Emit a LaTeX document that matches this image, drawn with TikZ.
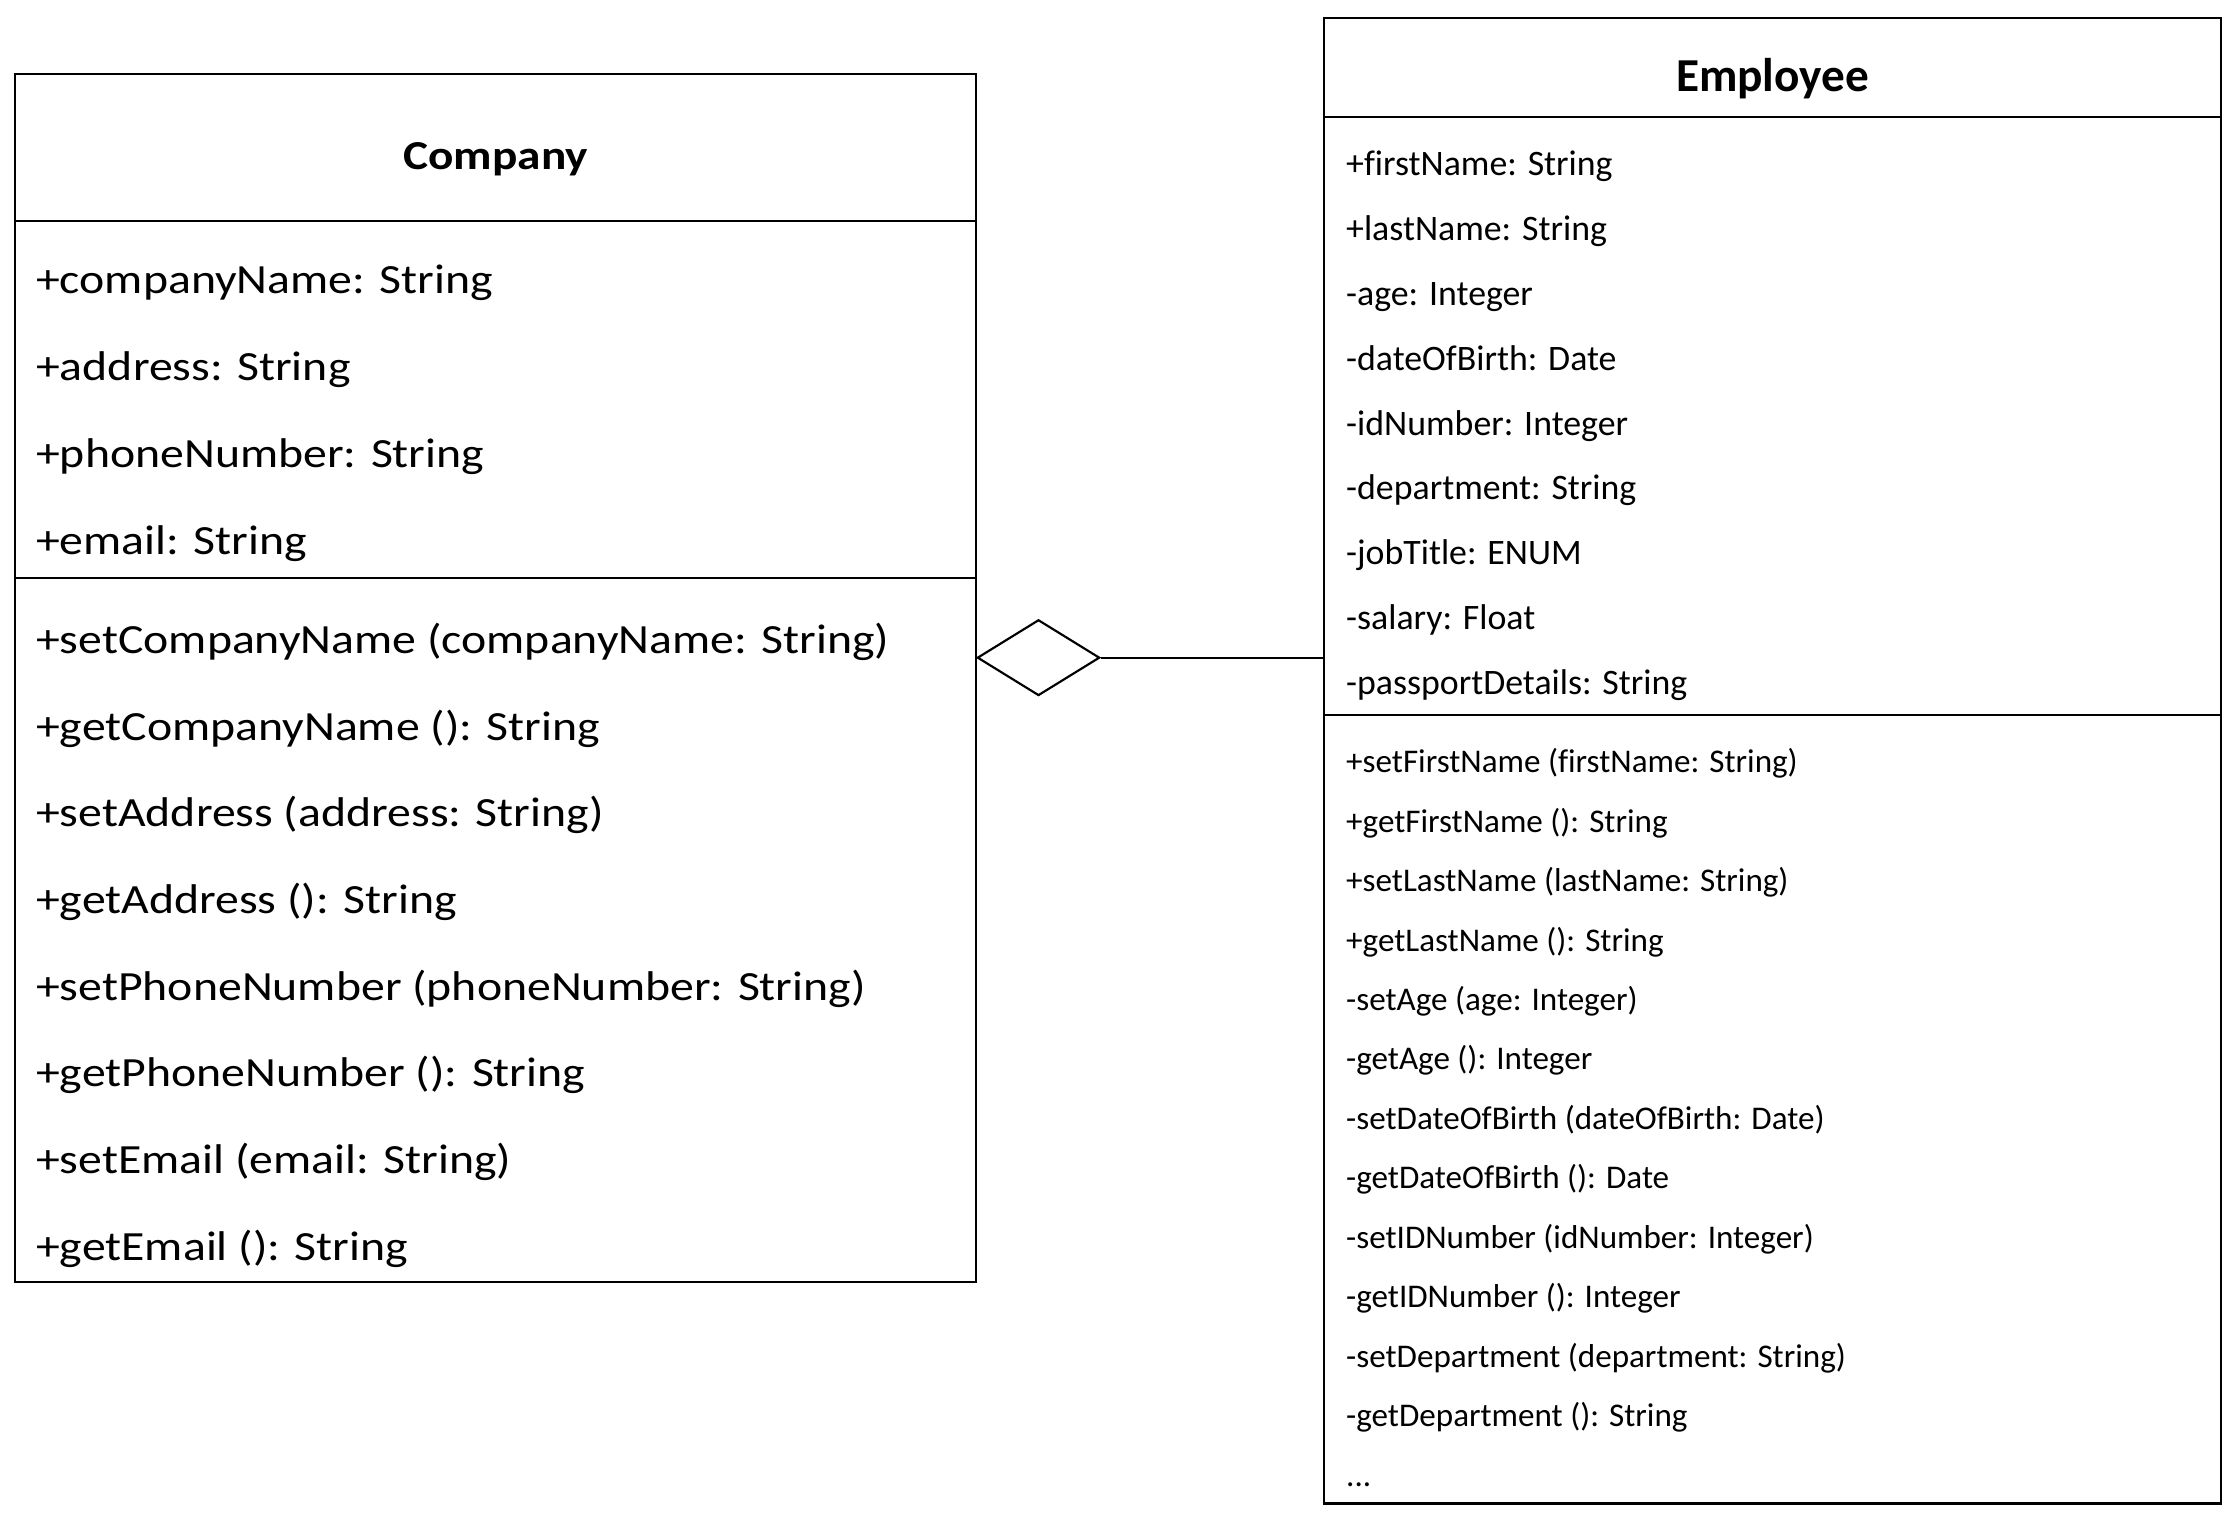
\documentclass[tikz,border=0pt]{standalone}
\usepackage{fontspec}
\setmainfont{Carlito}[Ligatures=CommonOff]
\newfontfamily\widefont{Carlito}[FakeStretch=1.15,Ligatures=CommonOff]
\usetikzlibrary{positioning,shapes.geometric}

\begin{document}
\begin{tikzpicture}[x=1pt,y=-1pt,line width=1.5pt,
                    box/.style={rectangle,draw,inner sep=0pt,outer sep=0pt},
                    title/.style={anchor=base,inner sep=0pt},
                    member/.style={anchor=base west,inner sep=0pt}]

  \useasboundingbox (0,0) rectangle (1563,1060.4);

  % Company class
  \node[box,minimum width=671,minimum height=102.8,anchor=north west] (company head) at (10.5,51.5) {};
  \node[box,minimum width=671,minimum height=249.2] (company attrs) [below=0pt of company head] {};
  \node[box,minimum width=671,minimum height=491.5] (company methods) [below=0pt of company attrs] {};
  \node[title,font=\widefont\bfseries\fontsize{28.7}{30}\selectfont] (company title) at (346,118.2) {Company};

  \foreach \txt [count=\i from 0] in {+companyName: String,+address: String,
      +phoneNumber: String,+email: String}
    \node[member,font=\widefont\fontsize{29}{31}\selectfont] (company attr \i) at (24.5,{204.8+60.8*\i}) {\txt};

  \foreach \txt [count=\i from 0] in {+setCompanyName (companyName: String),
      +getCompanyName (): String,+setAddress (address: String),+getAddress (): String,
      +setPhoneNumber (phoneNumber: String),+getPhoneNumber (): String,
      +setEmail (email: String),+getEmail (): String}
    \node[member,font=\widefont\fontsize{29}{31}\selectfont] (company method \i) at (24.5,{456.1+60.5*\i}) {\txt};

  % Employee class
  \node[box,minimum width=626.2,minimum height=68.7,anchor=north west] (employee head) at (924.3,12.8) {};
  \node[box,minimum width=626.2,minimum height=417.6] (employee attrs) [below=0pt of employee head] {};
  \node[box,minimum width=626.2,minimum height=550.4] (employee methods) [below=0pt of employee attrs] {};
  \node[title,font=\bfseries\fontsize{33}{35}\selectfont] (employee title) at (1237.4,64) {Employee};

  \foreach \txt [count=\i from 0] in {+firstName: String,+lastName: String,-age: Integer,
      -dateOfBirth: Date,-idNumber: Integer,-department: String,-jobTitle: ENUM,
      -salary: Float,-passportDetails: String}
    \node[member,font=\fontsize{25}{27}\selectfont] (employee attr \i) at (939,{122.5+45.3*\i}) {\txt};

  \foreach \txt [count=\i from 0] in {+setFirstName (firstName: String),+getFirstName (): String,
      +setLastName (lastName: String),+getLastName (): String,-setAge (age: Integer),
      -getAge (): Integer,-setDateOfBirth (dateOfBirth: Date),-getDateOfBirth (): Date,
      -setIDNumber (idNumber: Integer),-getIDNumber (): Integer,
      -setDepartment (department: String),-getDepartment (): String}
    \node[member,font=\fontsize{23.1}{25}\selectfont] (employee method \i) at (939,{539.4+41.5*\i}) {\txt};
  \node[member,font=\fontsize{23.1}{25}\selectfont] (employee more) at (939,1037.4) {...};

  % aggregation
  \node[diamond,draw,fill=white,inner sep=0pt,minimum width=85.4,minimum height=52.9,anchor=west] (agg) at (681.5,459.1) {};
  \draw (agg.east) -- (agg.east -| employee attrs.west);
\end{tikzpicture}
\end{document}
